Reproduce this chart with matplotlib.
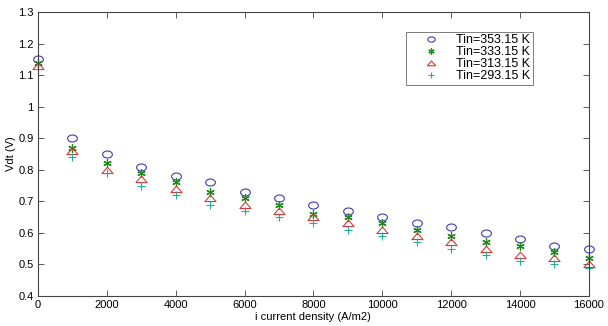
import matplotlib
matplotlib.use('Agg')
import matplotlib.pyplot as plt
from matplotlib.path import Path
import numpy as np

plt.rcParams['font.family'] = ['Liberation Sans', 'DejaVu Sans']

current = [0, 1000, 2000, 3000, 4000, 5000, 6000, 7000, 8000,
           9000, 10000, 11000, 12000, 13000, 14000, 15000, 16000]
v_353 = [1.15, 0.90, 0.85, 0.81, 0.78, 0.76, 0.73, 0.71, 0.69,
         0.67, 0.65, 0.63, 0.62, 0.60, 0.58, 0.56, 0.55]
v_333 = [1.14, 0.87, 0.82, 0.79, 0.76, 0.73, 0.71, 0.69, 0.66,
         0.65, 0.63, 0.61, 0.59, 0.57, 0.56, 0.54, 0.52]
v_313 = [1.13, 0.86, 0.80, 0.77, 0.74, 0.71, 0.69, 0.67, 0.65,
         0.63, 0.61, 0.59, 0.57, 0.55, 0.53, 0.52, 0.50]
v_293 = [1.12, 0.84, 0.79, 0.75, 0.72, 0.69, 0.67, 0.65, 0.63,
         0.61, 0.59, 0.57, 0.55, 0.53, 0.51, 0.50, 0.49]
labels = ['Tin=353.15 K', 'Tin=333.15 K', 'Tin=313.15 K', 'Tin=293.15 K']

# slightly flattened markers, the original picture is stretched sideways
t = np.linspace(0, 2 * np.pi, 40)
ellipse = Path(np.column_stack([np.cos(t), 0.72 * np.sin(t)]), closed=True)
tri = Path([(-1, -0.55), (1, -0.55), (0, 0.6), (-1, -0.55)], closed=True)

fig = plt.figure(figsize=(6.08, 3.26), dpi=100)
ax = fig.add_axes([0.0625, 0.092, 0.906, 0.871])

ax.plot(current, v_353, ls='none', marker=ellipse, mfc='none', mec='#3c3cb0', ms=7, mew=0.8,
        label=labels[0], clip_on=False)
ax.plot(current, v_333, ls='none', marker=(6, 2, 0), mec='#1e8a1e', ms=6, mew=0.9,
        label=labels[1], clip_on=False)
ax.plot(current, v_313, ls='none', marker=tri, mfc='none', mec='#d03a3a', ms=8, mew=0.8,
        label=labels[2], clip_on=False)
ax.plot(current, v_293, ls='none', marker='+', mec='#20b09a', ms=6, mew=0.8,
        label=labels[3], clip_on=False)

ax.set_xlim(0, 16000)
ax.set_ylim(0.4, 1.3)
ax.set_xticks(np.arange(0, 16001, 2000))
ax.set_yticks(np.arange(0.4, 1.31, 0.1))
ax.set_yticklabels(['0.4', '0.5', '0.6', '0.7', '0.8', '0.9', '1', '1.1', '1.2', '1.3'])
ax.tick_params(direction='in', top=True, right=True, labelsize=8, length=4, width=0.6,
               color='#444444', pad=3)
for s in ax.spines.values():
    s.set_linewidth(0.8)
    s.set_color('#444444')

ax.set_xlabel('i current density (A/m2)', fontsize=8, labelpad=1)
ax.set_ylabel('Vdt (V)', fontsize=8, labelpad=2)

leg = ax.legend(loc='upper left', bbox_to_anchor=(0.668, 0.93), fontsize=9,
                frameon=True, fancybox=False, handletextpad=0.2, borderpad=0.2,
                labelspacing=0.0, handlelength=3.6, markerscale=0.75, borderaxespad=0)
leg.get_frame().set_edgecolor('#444444')
leg.get_frame().set_linewidth(0.6)

fig.savefig('out.png', dpi=100)
